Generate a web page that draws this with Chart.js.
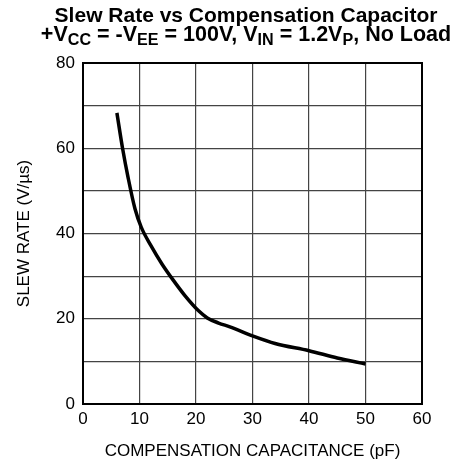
<!DOCTYPE html>
<html>
<head>
<meta charset="utf-8">
<script src="https://cdn.jsdelivr.net/npm/chart.js@4/dist/chart.umd.min.js"></script>
<style>
  body { margin: 0; background: #fff; overflow: hidden; }
  .wrap { position: relative; width: 459px; height: 462px; }
  .title {
    position: absolute; left: 246px; transform: translateX(-50%);
    white-space: nowrap; text-align: center;
    font-family: "Liberation Sans", Arial, sans-serif; font-weight: bold;
    color: #000;
  }
  .title sub { font-size: 0.75em; vertical-align: -0.25em; line-height: 0; }
  #t1 { top: 5px; line-height: 20px; font-size: 21px; }
  #t2 { top: 24px; line-height: 20px; font-size: 21.5px; }
</style>
</head>
<body>
<div class="wrap">
  <canvas id="myChart" width="459" height="462"></canvas>
  <div class="title" id="t1">Slew Rate vs Compensation Capacitor</div>
  <div class="title" id="t2">+V<sub>CC</sub> = -V<sub>EE</sub> = 100V, V<sub>IN</sub> = 1.2V<sub>P</sub>, No Load</div>
</div>
<script>
// values
const capPF = [6, 7, 8, 9.2, 10.3, 12, 14, 16, 18, 20.5, 22, 24, 26, 30, 34, 40, 45, 50];
const slewRate = [68.3, 60, 53, 45.8, 41.5, 37.2, 32.8, 29, 25.5, 21.8, 20.2, 19.0, 18.1, 16.0, 14.2, 12.5, 10.8, 9.4];
const yLabels = [0, 20, 40, 60, 80];
const xLabels = [0, 10, 20, 30, 40, 50, 60];

const font = "'Liberation Sans', Arial, sans-serif";

const frame = {
  id: 'frame',
  afterDraw(chart) {
    const { ctx, chartArea: a } = chart;
    ctx.save();
    ctx.strokeStyle = '#000';
    ctx.lineWidth = 2;
    ctx.strokeRect(a.left, a.top, a.right - a.left, a.bottom - a.top);
    ctx.restore();
  }
};

const ctx = document.getElementById('myChart').getContext('2d');
const chart = new Chart(ctx, {
  type: 'line',
  data: {
    datasets: [{
      data: capPF.map((x, i) => ({ x, y: slewRate[i] })),
      borderColor: '#000',
      borderWidth: 3.5,
      pointRadius: 0,
      cubicInterpolationMode: 'monotone',
      fill: false
    }]
  },
  options: {
    responsive: false,
    animation: false,
    devicePixelRatio: 1,
    layout: { padding: { top: 63, right: 37, left: 0, bottom: 0 } },
    plugins: { legend: { display: false }, tooltip: { enabled: false } },
    scales: {
      x: {
        type: 'linear', min: 0, max: 60,
        afterFit: (s) => { s.height = 58; },
        afterBuildTicks: (s) => { s.ticks = xLabels.map(v => ({ value: v })); },
        border: { display: false },
        grid: { color: '#444', lineWidth: 1.2, drawTicks: false },
        ticks: { color: '#000', padding: 5, font: { family: font, size: 17 }, maxRotation: 0 },
        title: { display: true, text: 'COMPENSATION CAPACITANCE (pF)', color: '#000',
                 font: { family: font, size: 17 }, padding: { top: 2, bottom: 0 } }
      },
      y: {
        type: 'linear', min: 0, max: 80,
        afterFit: (s) => { s.width = 83; },
        border: { display: false },
        grid: { color: '#444', lineWidth: 1.2, drawTicks: false },
        ticks: {
          stepSize: 10, color: '#000', padding: 8, font: { family: font, size: 17 },
          callback: (v) => yLabels.includes(v) ? String(v) : ''
        },
        title: { display: true, text: 'SLEW RATE (V/\u00b5s)', color: '#000',
                 font: { family: font, size: 17 }, padding: { top: 14, bottom: 0 } }
      }
    }
  },
  plugins: [frame]
});
</script>
</body>
</html>
